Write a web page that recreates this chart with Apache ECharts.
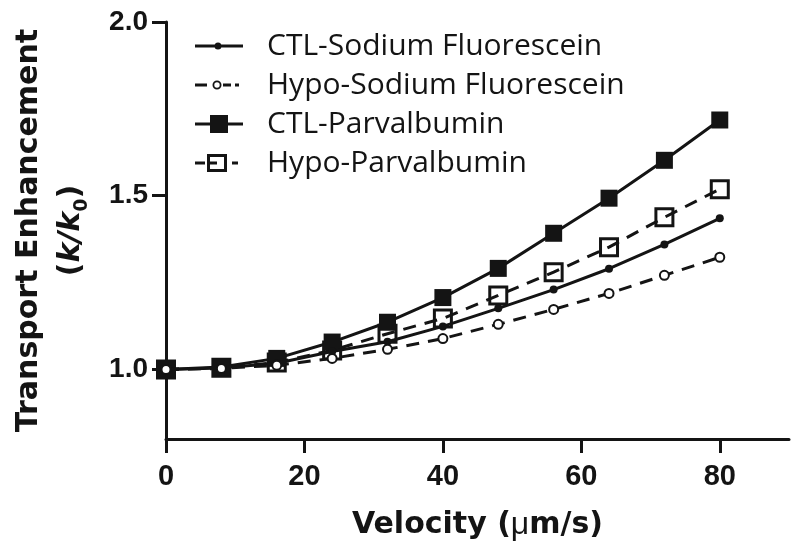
<!DOCTYPE html>
<html>
<head>
<meta charset="utf-8">
<script src="https://cdn.jsdelivr.net/npm/echarts@6/dist/echarts.min.js"></script>
<style>html,body{margin:0;padding:0;background:#fff;}#c{width:800px;height:551px;}</style>
</head>
<body>
<div id="c"></div>
<script>
var velocity = [0, 8, 16, 24, 32, 40, 48, 56, 64, 72, 80];
var ctlSodium = [1.0, 1.004, 1.018, 1.052, 1.08, 1.124, 1.176, 1.23, 1.29, 1.36, 1.435];
var hypoSodium = [1.0, 1.003, 1.012, 1.032, 1.058, 1.089, 1.13, 1.173, 1.219, 1.271, 1.323];
var ctlParv = [1.0, 1.007, 1.032, 1.079, 1.136, 1.207, 1.291, 1.392, 1.493, 1.602, 1.718];
var hypoParv = [1.0, 1.005, 1.02, 1.055, 1.103, 1.147, 1.213, 1.28, 1.352, 1.438, 1.519];
var xTicks = [0, 20, 40, 60, 80];
var yTicks = [1.0, 1.5, 2.0];
var seriesNames = ['CTL-Sodium Fluorescein', 'Hypo-Sodium Fluorescein', 'CTL-Parvalbumin', 'Hypo-Parvalbumin'];

function pairs(ys) { return velocity.map(function (x, i) { return [x, ys[i]]; }); }

var INK = '#141414';
var SANS = '"Liberation Sans", Arial, sans-serif';
var WIDE = '"DejaVu Sans", "Liberation Sans", sans-serif';

// legend glyphs (line + marker) drawn as one shape each, box 48 x 20
var legendIcons = [
  'path://M0,8.5H48V11.5H0Z M19.5,10A3.5,3.5,0,1,1,26.5,10A3.5,3.5,0,1,1,19.5,10Z',
  'path://M0,8.5H12V11.5H0Z M28,8.5H36V11.5H28Z M40,8.5H44V11.5H40Z M17.5,10A4.5,4.5,0,1,1,26.5,10A4.5,4.5,0,1,1,17.5,10Z M19.3,10A2.7,2.7,0,1,0,24.7,10A2.7,2.7,0,1,0,19.3,10Z M48,10L48,10Z',
  'path://M0,8.5H48V11.5H0Z M15,1H33V19H15Z',
  'path://M0,8.5H10V11.5H0Z M12,1H32V19H12Z M15,4V16H29V4Z M15,8.5H22V11.5H15Z M37,8.5H43V11.5H37Z M48,10L48,10Z'
];

var chart = echarts.init(document.getElementById('c'), null, { renderer: 'canvas' });
chart.setOption({
  animation: false,
  backgroundColor: '#ffffff',
  grid: { left: 162, top: 22, right: 11, bottom: 112, containLabel: false },
  legend: {
    left: 190, top: 26, orient: 'vertical',
    itemWidth: 48, itemHeight: 20, itemGap: 9,
    selectedMode: false,
    data: seriesNames.map(function (n, i) {
      return { name: n, icon: legendIcons[i], itemStyle: { color: INK, borderWidth: 0, borderColor: INK } };
    }),
    textStyle: { fontFamily: '"Open Sans", Lato, sans-serif', fontSize: 30, color: INK, padding: [0, 0, 0, 19] }
  },
  xAxis: {
    type: 'value', min: 0, max: 90,
    name: '{b|Velocity (}{mu|μ}{b|m/s)}',
    nameLocation: 'middle', nameGap: 70,
    nameTextStyle: {
      rich: {
        b: { fontFamily: WIDE, fontWeight: 'bold', fontSize: 30, color: INK },
        mu: { fontFamily: SANS, fontWeight: 'normal', fontSize: 32, color: INK }
      }
    },
    axisLine: { show: true, lineStyle: { color: INK, width: 3 } },
    axisTick: { show: true, inside: false, length: 14, lineStyle: { color: INK, width: 3 }, customValues: xTicks },
    axisLabel: { customValues: xTicks, margin: 23, fontFamily: SANS, fontWeight: 'bold', fontSize: 29, color: INK },
    splitLine: { show: false }
  },
  yAxis: {
    type: 'value', min: 0.8, max: 2.0,
    name: '{b|Transport Enhancement}\n{b|(}{i|k/k}{s|0}{b|)}',
    nameLocation: 'middle', nameRotate: 90, nameGap: 74,
    nameTextStyle: {
      lineHeight: 42,
      rich: {
        b: { fontFamily: WIDE, fontWeight: 'bold', fontSize: 30, color: INK, lineHeight: 42 },
        i: { fontFamily: WIDE, fontWeight: 'bold', fontStyle: 'italic', fontSize: 30, color: INK, lineHeight: 42 },
        s: { fontFamily: WIDE, fontWeight: 'bold', fontSize: 19, color: INK, lineHeight: 42, verticalAlign: 'bottom', padding: [14, 0, 0, 0] }
      }
    },
    axisLine: { show: true, lineStyle: { color: INK, width: 3 } },
    axisTick: { show: true, inside: false, length: 14, lineStyle: { color: INK, width: 3 }, customValues: yTicks },
    axisLabel: {
      customValues: yTicks, margin: 18,
      formatter: function (v) { return Number(v).toFixed(1); },
      fontFamily: SANS, fontWeight: 'bold', fontSize: 28, color: INK
    },
    splitLine: { show: false }
  },
  series: [
    {
      name: 'Hypo-Parvalbumin', type: 'line', data: pairs(hypoParv), z: 2,
      symbol: 'rect', symbolSize: 17, showAllSymbol: true,
      lineStyle: { color: INK, width: 3, type: [13, 9] },
      itemStyle: { color: 'rgba(255,255,255,0)', borderColor: INK, borderWidth: 3 }
    },
    {
      name: 'CTL-Parvalbumin', type: 'line', data: pairs(ctlParv), z: 3,
      symbol: 'rect', symbolSize: 17, showAllSymbol: true,
      lineStyle: { color: INK, width: 3 },
      itemStyle: { color: INK, borderColor: INK, borderWidth: 0 }
    },
    {
      name: 'CTL-Sodium Fluorescein', type: 'line', data: pairs(ctlSodium), z: 4,
      symbol: 'circle', symbolSize: 8, showAllSymbol: true,
      lineStyle: { color: INK, width: 3 },
      itemStyle: { color: INK, borderColor: INK, borderWidth: 0 }
    },
    {
      name: 'Hypo-Sodium Fluorescein', type: 'line', data: pairs(hypoSodium), z: 5,
      symbol: 'circle', symbolSize: 9, showAllSymbol: true,
      lineStyle: { color: INK, width: 3, type: [13, 9] },
      itemStyle: { color: '#ffffff', borderColor: INK, borderWidth: 2 }
    }
  ]
});
</script>
</body>
</html>
